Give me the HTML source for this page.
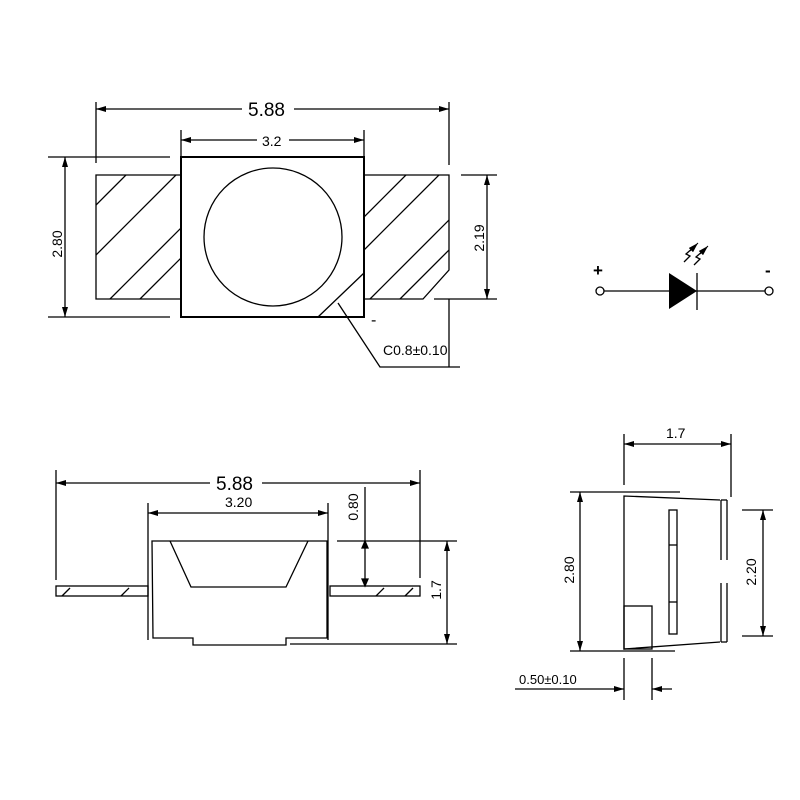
<!DOCTYPE html>
<html><head><style>body{margin:0;background:#fff}svg{display:block}text{font-family:"Liberation Sans",sans-serif;fill:#000}</style></head><body>
<svg width="800" height="800" viewBox="0 0 800 800" xmlns="http://www.w3.org/2000/svg">
<defs>
<marker id="a" viewBox="0 0 10 6" refX="10" refY="3" markerWidth="10" markerHeight="6" orient="auto-start-reverse" markerUnits="userSpaceOnUse"><path d="M0,0L10,3L0,6z" fill="#000"/></marker>
<clipPath id="lp"><rect x="96" y="175" width="84" height="124"/></clipPath>
<clipPath id="rp"><path d="M364,175H449V270L423,299H364z"/></clipPath>
</defs>
<g stroke="#000" stroke-width="1.3" fill="none">
<!-- TOP VIEW -->
<line x1="96" y1="109" x2="449" y2="109" marker-start="url(#a)" marker-end="url(#a)"/>
<line x1="96" y1="102" x2="96" y2="163"/><line x1="449" y1="102" x2="449" y2="165"/>
<line x1="181" y1="140" x2="364" y2="140" marker-start="url(#a)" marker-end="url(#a)"/>
<line x1="181" y1="130" x2="181" y2="157"/><line x1="364" y1="130" x2="364" y2="157"/>
<rect x="181" y="157" width="183" height="160" stroke-width="2"/>
<circle cx="273" cy="237" r="69"/>
<line x1="318" y1="317" x2="364" y2="273"/>
<path d="M180,175H96V299H180"/>
<path d="M364,175H449V270L423,299H364"/>
<g clip-path="url(#lp)"><line x1="96" y1="205" x2="140" y2="161"/><line x1="96" y1="255" x2="190" y2="161"/><line x1="110" y1="299" x2="200" y2="209"/><line x1="140" y1="299" x2="200" y2="239"/></g>
<g clip-path="url(#rp)"><line x1="364" y1="217" x2="410" y2="171"/><line x1="364" y1="250" x2="460" y2="154"/><line x1="370" y1="299" x2="460" y2="209"/><line x1="400" y1="299" x2="470" y2="229"/></g>
<line x1="65" y1="157" x2="65" y2="317" marker-start="url(#a)" marker-end="url(#a)"/>
<line x1="48" y1="157" x2="170" y2="157"/><line x1="48" y1="317" x2="170" y2="317"/>
<line x1="487" y1="175" x2="487" y2="299" marker-start="url(#a)" marker-end="url(#a)"/>
<line x1="461" y1="175" x2="497" y2="175"/><line x1="434" y1="299" x2="497" y2="299"/>
<line x1="449" y1="299" x2="449" y2="367"/>
<polyline points="338,303 380,367 460,367"/>
<!-- FRONT VIEW -->
<line x1="56" y1="483" x2="420" y2="483" marker-start="url(#a)" marker-end="url(#a)"/>
<line x1="56" y1="470" x2="56" y2="580"/><line x1="420" y1="470" x2="420" y2="578"/>
<line x1="148" y1="513" x2="328" y2="513" marker-start="url(#a)" marker-end="url(#a)"/>
<line x1="148" y1="503" x2="148" y2="640"/><line x1="328" y1="503" x2="328" y2="640"/>
<path d="M152,541H327V638H286V645H193V638H153z"/>
<polyline points="170,541 191,587 286,587 308,541"/>
<rect x="56" y="586" width="92" height="10"/><rect x="330" y="586" width="90" height="10"/>
<line x1="62" y1="596" x2="70" y2="588"/><line x1="121" y1="596" x2="129" y2="588"/><line x1="376" y1="596" x2="384" y2="588"/><line x1="405" y1="596" x2="413" y2="588"/>
<line x1="365" y1="487" x2="365" y2="586"/>
<path d="M362,548L365,541L368,548z M362,579L365,586L368,579z" fill="#000"/>
<line x1="337" y1="541" x2="457" y2="541"/>
<line x1="447" y1="541" x2="447" y2="644" marker-start="url(#a)" marker-end="url(#a)"/>
<line x1="290" y1="644" x2="457" y2="644"/>
<!-- SIDE VIEW -->
<line x1="624" y1="444" x2="731" y2="444" marker-start="url(#a)" marker-end="url(#a)"/>
<line x1="624" y1="434" x2="624" y2="485"/><line x1="731" y1="434" x2="731" y2="497"/>
<path d="M720,500L624,496V649L720,642"/>
<line x1="721" y1="500" x2="721" y2="560"/><line x1="727" y1="500" x2="727" y2="560"/>
<line x1="721" y1="583" x2="721" y2="642"/><line x1="727" y1="583" x2="727" y2="642"/>
<line x1="721" y1="500" x2="727" y2="500"/><line x1="721" y1="642" x2="727" y2="642"/>
<rect x="669" y="510" width="8" height="124"/>
<line x1="669" y1="545" x2="677" y2="545"/><line x1="669" y1="602" x2="677" y2="602"/>
<rect x="624" y="606" width="28" height="43"/>
<line x1="580" y1="492" x2="580" y2="651" marker-start="url(#a)" marker-end="url(#a)"/>
<line x1="570" y1="492" x2="680" y2="492"/><line x1="570" y1="651" x2="675" y2="651"/>
<line x1="763" y1="510" x2="763" y2="636" marker-start="url(#a)" marker-end="url(#a)"/>
<line x1="742" y1="510" x2="773" y2="510"/><line x1="742" y1="636" x2="773" y2="636"/>
<line x1="624" y1="658" x2="624" y2="700"/><line x1="652" y1="658" x2="652" y2="700"/>
<line x1="515" y1="689" x2="624" y2="689" marker-end="url(#a)"/><line x1="652" y1="689" x2="672" y2="689" marker-start="url(#a)"/>
<!-- DIODE -->
<line x1="604" y1="291" x2="765" y2="291"/>
<circle cx="600" cy="291" r="4"/><circle cx="769" cy="291" r="4"/>
<line x1="697" y1="273" x2="697" y2="310"/>
<polyline points="684,262 690,256 686,254 694,247"/><polyline points="694,265 700,259 696,257 704,250"/>
<line x1="690" y1="251" x2="698" y2="243" marker-end="url(#a)" stroke-width="1"/>
<line x1="700" y1="254" x2="708" y2="246" marker-end="url(#a)" stroke-width="1"/>
</g>
<path d="M669,273L697,291L669,309z" fill="#000"/>
<rect x="242" y="100" width="52" height="18" fill="#fff"/>
<rect x="257" y="133" width="32" height="14" fill="#fff"/>
<rect x="210" y="474" width="52" height="18" fill="#fff"/>
<text x="248" y="116" font-size="19">5.88</text>
<text x="262" y="146" font-size="14">3.2</text>
<text transform="translate(62,244) rotate(-90)" font-size="14" text-anchor="middle">2.80</text>
<text transform="translate(484,238) rotate(-90)" font-size="14" text-anchor="middle">2.19</text>
<text x="371" y="325" font-size="16">-</text>
<text x="383" y="355" font-size="14">C0.8±0.10</text>
<text x="216" y="490" font-size="19">5.88</text>
<text x="225" y="507" font-size="14">3.20</text>
<text transform="translate(358,507) rotate(-90)" font-size="14" text-anchor="middle">0.80</text>
<text transform="translate(441,590) rotate(-90)" font-size="14" text-anchor="middle">1.7</text>
<text x="666" y="438" font-size="14">1.7</text>
<text transform="translate(574,570) rotate(-90)" font-size="14" text-anchor="middle">2.80</text>
<text transform="translate(756,572) rotate(-90)" font-size="14" text-anchor="middle">2.20</text>
<text x="519" y="684" font-size="13">0.50±0.10</text>
<text x="593" y="276" font-size="17" font-weight="bold">+</text>
<text x="765" y="276" font-size="17" font-weight="bold">-</text>
</svg>
</body></html>
